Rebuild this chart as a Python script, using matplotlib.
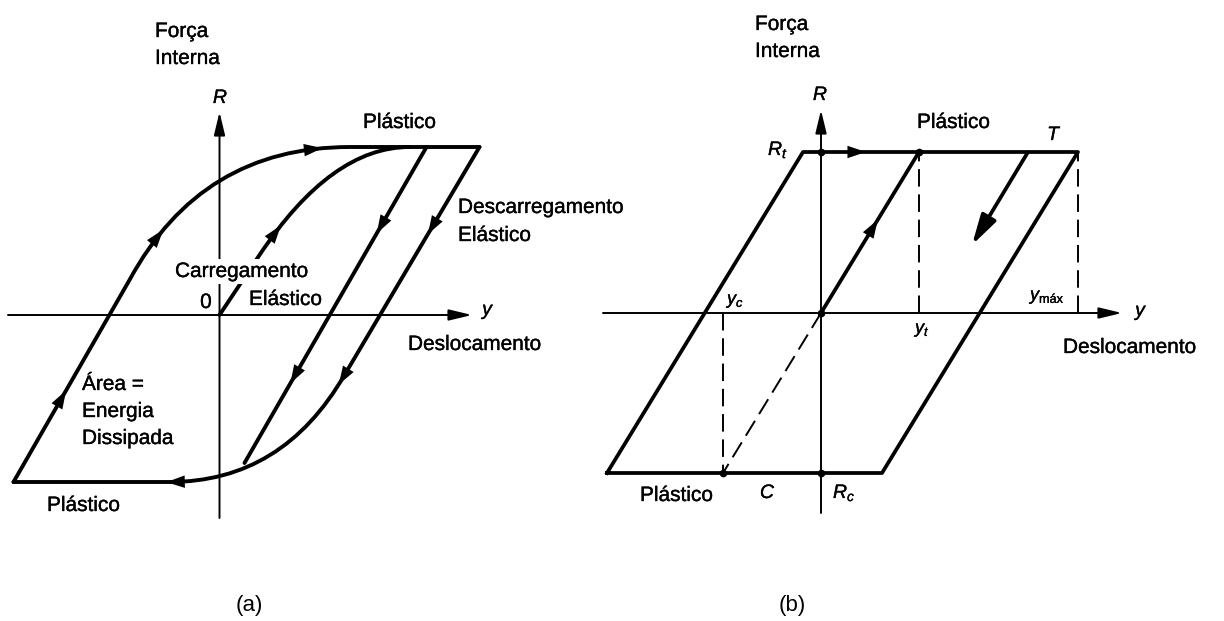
import numpy as np
import matplotlib
matplotlib.use('Agg')
import matplotlib.pyplot as plt
import matplotlib.patheffects as pe
from matplotlib.path import Path
from matplotlib.patches import PathPatch, FancyArrowPatch

plt.rcParams['font.family'] = ['Liberation Sans', 'DejaVu Sans']
plt.rcParams['mathtext.fontset'] = 'custom'
plt.rcParams['mathtext.rm'] = 'Liberation Sans'
plt.rcParams['mathtext.it'] = 'Liberation Sans:italic'

W, H = 1224, 621

# ---- (a) hysteresis with smooth yielding (units: 1 = 100 px, origin at axes crossing)
# path codes: M = start, L = straight, Q = quadratic knee (control point, end point)
a_outer_load = [(-2.06, -1.67), (-0.90, 0.35), (-0.18, 1.68), (1.30, 1.68), (2.60, 1.68)]
a_outer_load_codes = 'MLQQL'
a_virgin = [(0.0, 0.0), (0.40, 0.60), (1.12, 1.68), (1.90, 1.68)]
a_virgin_codes = 'MLQQ'
a_inner_unload = [(2.07, 1.68), (0.25, -1.48)]
a_inner_unload_codes = 'ML'
a_outer_unload = [(2.60, 1.68), (1.25, -0.60), (0.63, -1.67), (-0.50, -1.67), (-2.06, -1.67)]
a_outer_unload_codes = 'MLQQL'

# where the direction arrows sit on each branch
a_arrows_outer_load = [(-1.575, -0.80), (-0.595, 0.82), (0.955, 1.65)]
a_arrows_virgin = [(0.635, 0.80)]
a_arrows_inner_unload = [(1.625, 0.85), (0.735, -0.62)]
a_arrows_outer_unload = [(2.125, 0.85), (1.205, -0.62), (-0.465, -1.63)]

a_xaxis = [-2.115, 2.525]
a_yaxis = [-2.03, 2.03]

# ---- (b) elastic-perfectly-plastic loop
b_loop_y = [-2.14, -0.18, 2.57, 0.61, -2.14]
b_loop_R = [-1.60, 1.61, 1.61, -1.60, -1.60]
b_elastic_y = [0.0, 0.98]
b_elastic_R = [0.0, 1.61]
b_reload_y = [0.0, -0.98]
b_reload_R = [0.0, -1.60]
b_yt, b_ymax, b_yc = 0.98, 2.57, -0.98
b_Rt, b_Rc = 1.61, -1.60
b_unload_arrow = [(2.07, 1.61), (1.51, 0.68)]
b_arrows_loop = [(0.39, 1.61)]
b_arrows_elastic = [(0.56, 0.86)]

b_xaxis = [-2.18, 3.01]
b_yaxis = [-2.00, 2.03]

ORIGIN_A = (219.5, 315)
ORIGIN_B = (821, 313)

fig = plt.figure(figsize=(W / 100, H / 100), dpi=100)
fig.patch.set_facecolor('white')
ink = [pe.withStroke(linewidth=0.25, foreground='black')]


def make_axes(origin):
    ax = fig.add_axes([0, 0, 1, 1])
    ox, oy = origin
    ax.set_xlim(-ox / 100, (W - ox) / 100)
    ax.set_ylim((oy - H) / 100, oy / 100)
    ax.set_axis_off()
    ax.patch.set_alpha(0)
    return ax


def branch_path(verts, codes):
    cmap = {'M': Path.MOVETO, 'L': Path.LINETO, 'Q': Path.CURVE3}
    return Path(np.array(verts, float), [cmap[c] for c in codes])


def flatten(path, n=60):
    pts = []
    for seg, code in path.iter_bezier():
        if code == Path.MOVETO:
            continue
        pts.append(seg(np.linspace(0, 1, n)))
    return np.vstack(pts)


def head(ax, p, d, size=14, hl=0.95, hw=0.32):
    p = np.asarray(p)
    d = np.asarray(d) / np.hypot(*d)
    a = FancyArrowPatch(p - 0.2 * d, p + 0.07 * d,
                        arrowstyle=f'-|>,head_length={hl},head_width={hw}',
                        mutation_scale=size, lw=0, color='black',
                        shrinkA=0, shrinkB=0, zorder=4)
    ax.add_patch(a)


def arrows_on(ax, path, anchors):
    pts = flatten(path)
    for q in anchors:
        i = np.argmin(np.hypot(*(pts - np.asarray(q)).T))
        i0, i1 = max(i - 2, 0), min(i + 2, len(pts) - 1)
        head(ax, pts[i], pts[i1] - pts[i0])


def draw_branch(ax, verts, codes, anchors, lw=2.8):
    path = branch_path(verts, codes)
    ax.add_patch(PathPatch(path, fill=False, lw=lw, ec='black',
                           capstyle='round', joinstyle='round', zorder=3))
    arrows_on(ax, path, anchors)


def axis_arrow(ax, p0, p1):
    ax.add_patch(FancyArrowPatch(p0, p1, arrowstyle='-|>,head_length=1.0,head_width=0.24',
                                 mutation_scale=14, lw=1.4, color='black',
                                 shrinkA=0, shrinkB=0, zorder=2))


def label(txt, x, y, size=15, style='normal', ha='left', va='baseline', bold=True, **kw):
    fig.text(x / W, 1 - y / H, txt, fontsize=size, style=style, ha=ha, va=va,
             path_effects=ink if bold else None, **kw)


# ---------- panel (a)
ax_a = make_axes(ORIGIN_A)
axis_arrow(ax_a, (a_xaxis[0], 0), (a_xaxis[1], 0))
axis_arrow(ax_a, (0, a_yaxis[0]), (0, a_yaxis[1]))
draw_branch(ax_a, a_outer_load, a_outer_load_codes, a_arrows_outer_load)
draw_branch(ax_a, a_virgin, a_virgin_codes, a_arrows_virgin)
draw_branch(ax_a, a_inner_unload, a_inner_unload_codes, a_arrows_inner_unload)
draw_branch(ax_a, a_outer_unload, a_outer_unload_codes, a_arrows_outer_unload)

label('Força', 155, 37)
label('Interna', 155, 64)
label('R', 220, 103, size=14, style='italic', ha='center')
label('Plástico', 363, 128)
label('Descarregamento', 458, 213)
label('Elástico', 458, 241)
label('Carregamento', 175, 277, zorder=5,
      bbox=dict(facecolor='white', edgecolor='none', pad=2))
label('Elástico', 249, 305)
label('0', 206, 308, ha='center')
label('y', 487, 315, size=14, style='italic', ha='center')
label('Deslocamento', 408, 350)
label('Área =', 82, 390)
label('Energia', 82, 417)
label('Dissipada', 82, 444)
label('Plástico', 47, 511)
label('(a)', 249, 605, size=16, ha='center', va='center', bold=False)

# ---------- panel (b)
ax_b = make_axes(ORIGIN_B)
axis_arrow(ax_b, (b_xaxis[0], 0), (b_xaxis[1], 0))
axis_arrow(ax_b, (0, b_yaxis[0]), (0, b_yaxis[1]))
dash = dict(color='black', lw=1.4, ls=(0, (9, 4)), zorder=2)
ax_b.plot([b_yt, b_yt], [0, b_Rt], **dash)
ax_b.plot([b_ymax, b_ymax], [0, b_Rt], **dash)
ax_b.plot([b_yc, b_yc], [0, b_Rc], **dash)
ax_b.plot(b_reload_y, b_reload_R, **dash)
ax_b.plot(b_loop_y, b_loop_R, color='black', lw=2.7, solid_joinstyle='round', zorder=3)
ax_b.plot(b_elastic_y, b_elastic_R, color='black', lw=2.7, zorder=3)
ax_b.plot([0, b_yt, 0, b_yc, 0], [b_Rt, b_Rt, b_Rc, b_Rc, 0], 'o', color='black', ms=4.5, zorder=4)
arrows_on(ax_b, Path(np.column_stack([b_loop_y, b_loop_R])), b_arrows_loop)
arrows_on(ax_b, Path(np.column_stack([b_elastic_y, b_elastic_R])), b_arrows_elastic)
(ux0, uR0), (ux1, uR1) = b_unload_arrow
ax_b.add_patch(FancyArrowPatch((ux0, uR0), (ux1, uR1),
                               arrowstyle='-|>,head_length=1.4,head_width=0.38',
                               mutation_scale=13, lw=2.7, color='black',
                               shrinkA=0, shrinkB=0, zorder=3))

label('Força', 755, 30)
label('Interna', 755, 57)
label('R', 820, 100, size=14, style='italic', ha='center')
label('$R_t$', 768, 155, size=14)
label('Plástico', 917, 128)
label('T', 1053, 140, size=14, style='italic', ha='center')
label('$y_c$', 727, 304, size=13)
label('$y_{\\mathrm{máx}}$', 1030, 300, size=13)
label('y', 1140, 316, size=14, style='italic', ha='center')
label('$y_t$', 915, 333, size=13)
label('Deslocamento', 1063, 353)
label('Plástico', 640, 501)
label('C', 767, 498, size=14, style='italic', ha='center')
label('$R_c$', 833, 498, size=14)
label('(b)', 792, 605, size=16, ha='center', va='center', bold=False)

fig.savefig('out.png', dpi=100, facecolor='white')
